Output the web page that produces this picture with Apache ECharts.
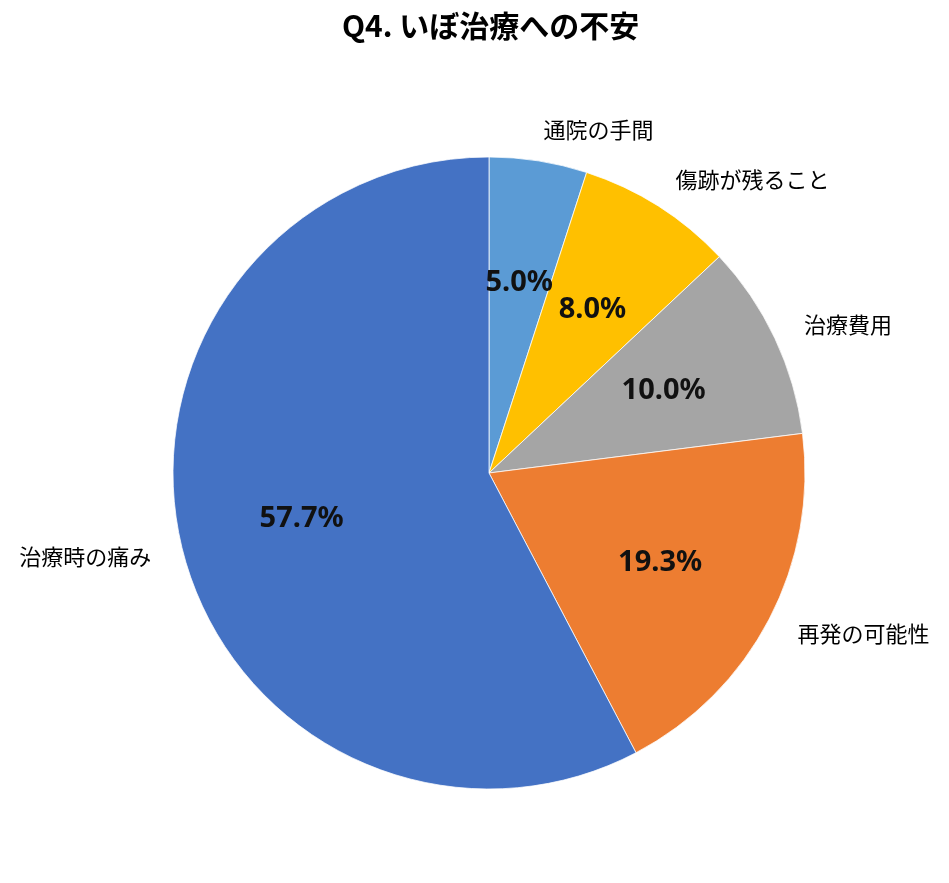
<!DOCTYPE html>
<html>
<head>
<meta charset="utf-8">
<script src="https://cdn.jsdelivr.net/npm/echarts@6/dist/echarts.min.js"></script>
<style>
html,body{margin:0;padding:0;background:#fff;}
#chart{width:949px;height:883px;}
</style>
</head>
<body>
<div id="chart"></div>
<script>
const titleText = 'Q4. いぼ治療への不安';
const categories = ['通院の手間', '傷跡が残ること', '治療費用', '再発の可能性', '治療時の痛み'];
const values = [5.0, 8.0, 10.0, 19.3, 57.7];
const colors = ['#5B9BD5', '#FFC000', '#A5A5A5', '#ED7D31', '#4472C4'];

const jp = '"Noto Sans CJK JP", "Noto Sans", sans-serif';
const pieData = categories.map((c, i) => ({ name: c, value: values[i], itemStyle: { color: colors[i] } }));
const labelData = categories.map((c, i) => ({ name: c, value: values[i] }));

const chart = echarts.init(document.getElementById('chart'));
chart.setOption({
  backgroundColor: '#fff',
  animation: false,
  title: {
    text: titleText,
    left: 337,
    top: 6,
    textStyle: { fontFamily: jp, fontSize: 30, fontWeight: 'bold', color: '#000' }
  },
  series: [
    {
      type: 'pie',
      center: [489, 473],
      radius: [0, 316],
      startAngle: 90,
      clockwise: true,
      avoidLabelOverlap: false,
      silent: true,
      itemStyle: { borderColor: 'rgba(255,255,255,0.75)', borderWidth: 1 },
      label: {
        show: true,
        position: 'outside',
        formatter: '{b}',
        fontFamily: jp,
        fontSize: 22,
        color: '#000',
        distanceToLabelLine: 0,
        overflow: 'none'
      },
      labelLine: { show: false, length: 32, length2: 0 },
      data: pieData
    },
    {
      type: 'pie',
      center: [489, 473],
      radius: [0, 380],
      startAngle: 90,
      clockwise: true,
      avoidLabelOverlap: false,
      silent: true,
      z: 5,
      itemStyle: { color: 'transparent', borderWidth: 0 },
      label: {
        show: true,
        position: 'inside',
        formatter: p => p.value.toFixed(1) + '%',
        fontFamily: '"Noto Sans", sans-serif',
        fontSize: 29,
        fontWeight: 'bold',
        color: '#111'
      },
      labelLine: { show: false },
      data: labelData
    }
  ]
});
</script>
</body>
</html>
